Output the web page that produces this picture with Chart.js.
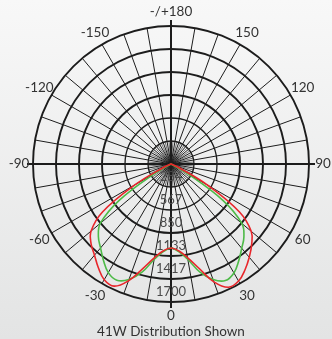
<!DOCTYPE html>
<html>
<head>
<meta charset="utf-8">
<script src="https://cdn.jsdelivr.net/npm/chart.js"></script>
<style>
  html, body { margin: 0; padding: 0; }
  body { background: linear-gradient(#f8f8f8, #e3e4e4); width: 332px; height: 339px; overflow: hidden; }
  #wrap { position: relative; width: 332px; height: 339px; }
</style>
</head>
<body>
<div id="wrap"><canvas id="polar"></canvas></div>
<script>
// angle from nadir (degrees) for the candela readings
const nadir = [0, 5, 10, 15, 20, 25, 30, 35, 40, 45, 50, 55, 60, 65, 70, 75, 80, 85, 90];

// red trace, candela
const redRight = [1035, 1072, 1170, 1330, 1545, 1675, 1665, 1590, 1500, 1405, 1290, 1030, 520, 110, 0, 0, 0, 0, 0];
const redLeft  = [1035, 1072, 1170, 1330, 1530, 1660, 1645, 1560, 1466, 1392, 1285, 1030, 510, 110, 0, 0, 0, 0, 0];
// green trace, candela
const greenRight = [1035, 1084, 1195, 1380, 1515, 1585, 1550, 1455, 1355, 1270, 1140, 780, 230, 0, 0, 0, 0, 0, 0];
const greenLeft  = [1035, 1084, 1195, 1380, 1515, 1580, 1545, 1450, 1350, 1265, 1135, 775, 230, 0, 0, 0, 0, 0, 0];

// labels round the rim (every 30 deg, clockwise from the top)
const angleTicks = ['-/+180', '150', '120', '90', '60', '30', '0', '-30', '-60', '-90', '-120', '-150'];
// ring labels
const rangeTicks = ['284', '567', '850', '1133', '1417', '1700'];
const maxCd = 1700;
const caption = '41W Distribution Shown';

// 5 degree categories, clockwise from the top: 180, 175, ... 0 (bottom) ... -175
const angles = [];
for (let a = 180; a > -180; a -= 5) angles.push(a);

function buildSeries(left, right) {
    return angles.map(a => {
        const k = nadir.indexOf(Math.abs(a));
        if (k < 0) return 0;
        return a >= 0 ? right[k] : left[k];
    });
}

const textColor = '#333';
const lineColor = '#1c1c1c';
const fontFamily = "Lato, 'Open Sans', sans-serif";

const polarDecor = {
    id: 'polarDecor',
    beforeDatasetsDraw(chart) {
        const r = chart.scales.r;
        const ctx = chart.ctx;
        const n = chart.data.labels.length;
        ctx.save();

        // fine 5 deg spokes inside the first ring
        const inner = r.getDistanceFromCenterForValue(maxCd / rangeTicks.length);
        ctx.strokeStyle = lineColor;
        ctx.lineWidth = 0.6;
        for (let i = 1; i < n; i += 2) {
            const p = r.getPointPosition(i, inner);
            ctx.beginPath();
            ctx.moveTo(r.xCenter, r.yCenter);
            ctx.lineTo(p.x, p.y);
            ctx.stroke();
        }

        // main axes, a bit past the rim
        ctx.lineWidth = 2;
        [0, n / 4].forEach(i => {
            const a = r.getPointPosition(i, r.drawingArea + 6);
            const b = r.getPointPosition(i + n / 2, r.drawingArea + 6);
            ctx.beginPath();
            ctx.moveTo(a.x, a.y);
            ctx.lineTo(b.x, b.y);
            ctx.stroke();
        });

        // ring values down the 0 axis
        ctx.font = '13px ' + fontFamily;
        ctx.fillStyle = '#4a4a4a';
        ctx.textAlign = 'center';
        ctx.textBaseline = 'middle';
        rangeTicks.forEach((t, k) => {
            const d = r.getDistanceFromCenterForValue(maxCd * (k + 1) / rangeTicks.length);
            ctx.fillText(t, r.xCenter, r.yCenter + d - 10);
        });
        ctx.restore();
    },
    afterDraw(chart) {
        const r = chart.scales.r;
        const ctx = chart.ctx;
        const n = chart.data.labels.length;
        const step = n / angleTicks.length;
        ctx.save();
        ctx.font = '13.5px ' + fontFamily;
        ctx.fillStyle = textColor;
        ctx.textAlign = 'center';
        ctx.textBaseline = 'middle';
        angleTicks.forEach((t, k) => {
            const p = r.getPointPosition(k * step, r.drawingArea + 14);
            ctx.fillText(t, p.x, p.y);
        });
        ctx.fillText(caption, r.xCenter, r.yCenter + r.drawingArea + 30);
        ctx.restore();
    }
};

new Chart(document.getElementById('polar'), {
    type: 'radar',
    data: {
        labels: angles,
        datasets: [{
            label: 'red',
            data: buildSeries(redLeft, redRight),
            borderColor: '#e8262b',
            borderWidth: 1.6,
            pointRadius: 0,
            fill: false,
            tension: 0.4
        }, {
            label: 'green',
            data: buildSeries(greenLeft, greenRight),
            borderColor: '#4dba47',
            borderWidth: 1.6,
            pointRadius: 0,
            fill: false,
            tension: 0.4
        }]
    },
    options: {
        responsive: true,
        maintainAspectRatio: false,
        animation: false,
        layout: { padding: { left: 33, right: 23, top: 26, bottom: 37 } },
        plugins: { legend: { display: false }, tooltip: { enabled: false } },
        scales: {
            r: {
                min: 0,
                max: maxCd,
                startAngle: 0,
                ticks: { stepSize: maxCd / rangeTicks.length, display: false },
                pointLabels: { display: false },
                grid: {
                    circular: true,
                    color: lineColor,
                    lineWidth: ctx => (ctx.index <= 2 ? 1.3 : 1.9)
                },
                angleLines: {
                    color: ctx => (ctx.index % 2 ? 'rgba(0,0,0,0)' : lineColor),
                    lineWidth: ctx => (ctx.index % 2 ? 0 : 1)
                }
            }
        }
    },
    plugins: [polarDecor]
});
</script>
</body>
</html>
